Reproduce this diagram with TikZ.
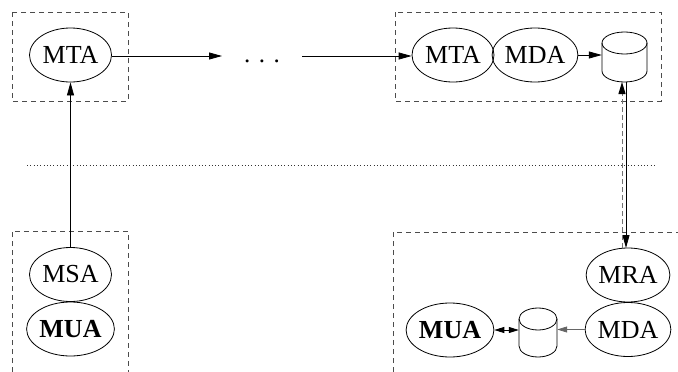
\documentclass[tikz,border=0pt]{standalone}
\usepackage{fontspec}
\setmainfont{Liberation Serif}
\usetikzlibrary{arrows.meta,shapes.geometric,calc}
\begin{document}
\begin{tikzpicture}[x=1pt,y=-1pt,
  agent/.style={ellipse,draw,line width=0.8pt,minimum width=82pt,minimum height=54pt,inner sep=0pt,font=\fontsize{26}{30}\selectfont},
  store/.style={rectangle,inner sep=0pt,draw=none},
  arr/.style={line width=0.8pt,-{Triangle[length=13pt,width=7pt]}},
  sarr/.style={line width=0.8pt,-{Triangle[length=10pt,width=6pt]}},
  dbox/.style={draw=black!70,line width=0.8pt,dash pattern=on 5pt off 4pt},
  sep/.style={draw=black!80,line width=1pt,dash pattern=on 1pt off 2.3pt}]
\useasboundingbox (0,0) rectangle (678,372);
% boxes
\draw[dbox] (12,12) rectangle (128,101);
\draw[dbox] (395,12) rectangle (661,101);
\draw[dbox] (12,372) -- (12,231) -- (128,231) -- (128,372);
\draw[dbox] (393,372) -- (393,232) -- (680,232);
% separator
\draw[sep] (27,165) -- (657,165);
% nodes
\node[agent] (mta1) at (70.5,55) {MTA};
\node[agent] (msa) at (70.5,274.5) {MSA};
\node[agent] (mua1) at (70.5,329) {\textbf{MUA}};
\node[agent] (mta2) at (453,55) {MTA};
\node[agent] (mda2) at (535,55) {MDA};
\node[agent] (mra) at (628,275) {MRA};
\node[agent] (mda3) at (628,329.5) {MDA};
\node[agent] (mua3) at (450,330) {\textbf{MUA}};
\node[font=\fontsize{25}{30}\selectfont,inner sep=0pt,anchor=base] (dots) at (262,62) {.\hspace{8.5pt}.\hspace{8.5pt}.};
\coordinate (c1) at (222,56);
\coordinate (c2) at (302,56);
% cylinders
\node[store,minimum width=45pt,minimum height=50pt] (cyl1) at (624.5,57) {};
\node[store,minimum width=38pt,minimum height=50pt] (cyl2) at (538,332) {};
\draw[line width=0.8pt] (602,43) -- (602,71) arc[start angle=180,end angle=360,x radius=22.5pt,y radius=11pt] -- (647,43);
\draw[line width=0.8pt] (624.5,43) ellipse[x radius=22.5pt,y radius=11pt];
\draw[line width=0.8pt] (519,319) -- (519,346) arc[start angle=180,end angle=360,x radius=19pt,y radius=11pt] -- (557,319);
\draw[line width=0.8pt] (538,319) ellipse[x radius=19pt,y radius=11pt];
% connectors
\draw[arr] (mta1.east |- c1) -- (c1);
\draw[arr] (c2) -- (c2 -| mta2.west);
\draw[arr] (mda2.east) -- (mda2.east -| cyl1.west);
\draw[arr] (msa.north) -- (mta1.south);
\draw[arr] (626,82) -- (626,248);
\draw[draw=black!55,line width=1pt,dash pattern=on 5pt off 3pt,-{Triangle[length=12pt,width=7pt,color=black]}] (622,248) -- (622,82);
\draw[draw=black!60,sarr] (mda3.west) -- (mda3.west -| cyl2.east);
\draw[line width=0.8pt,{Triangle[length=10pt,width=6pt]}-{Triangle[length=10pt,width=6pt]}] (mua3.east) -- (mua3.east -| cyl2.west);
\end{tikzpicture}
\end{document}
